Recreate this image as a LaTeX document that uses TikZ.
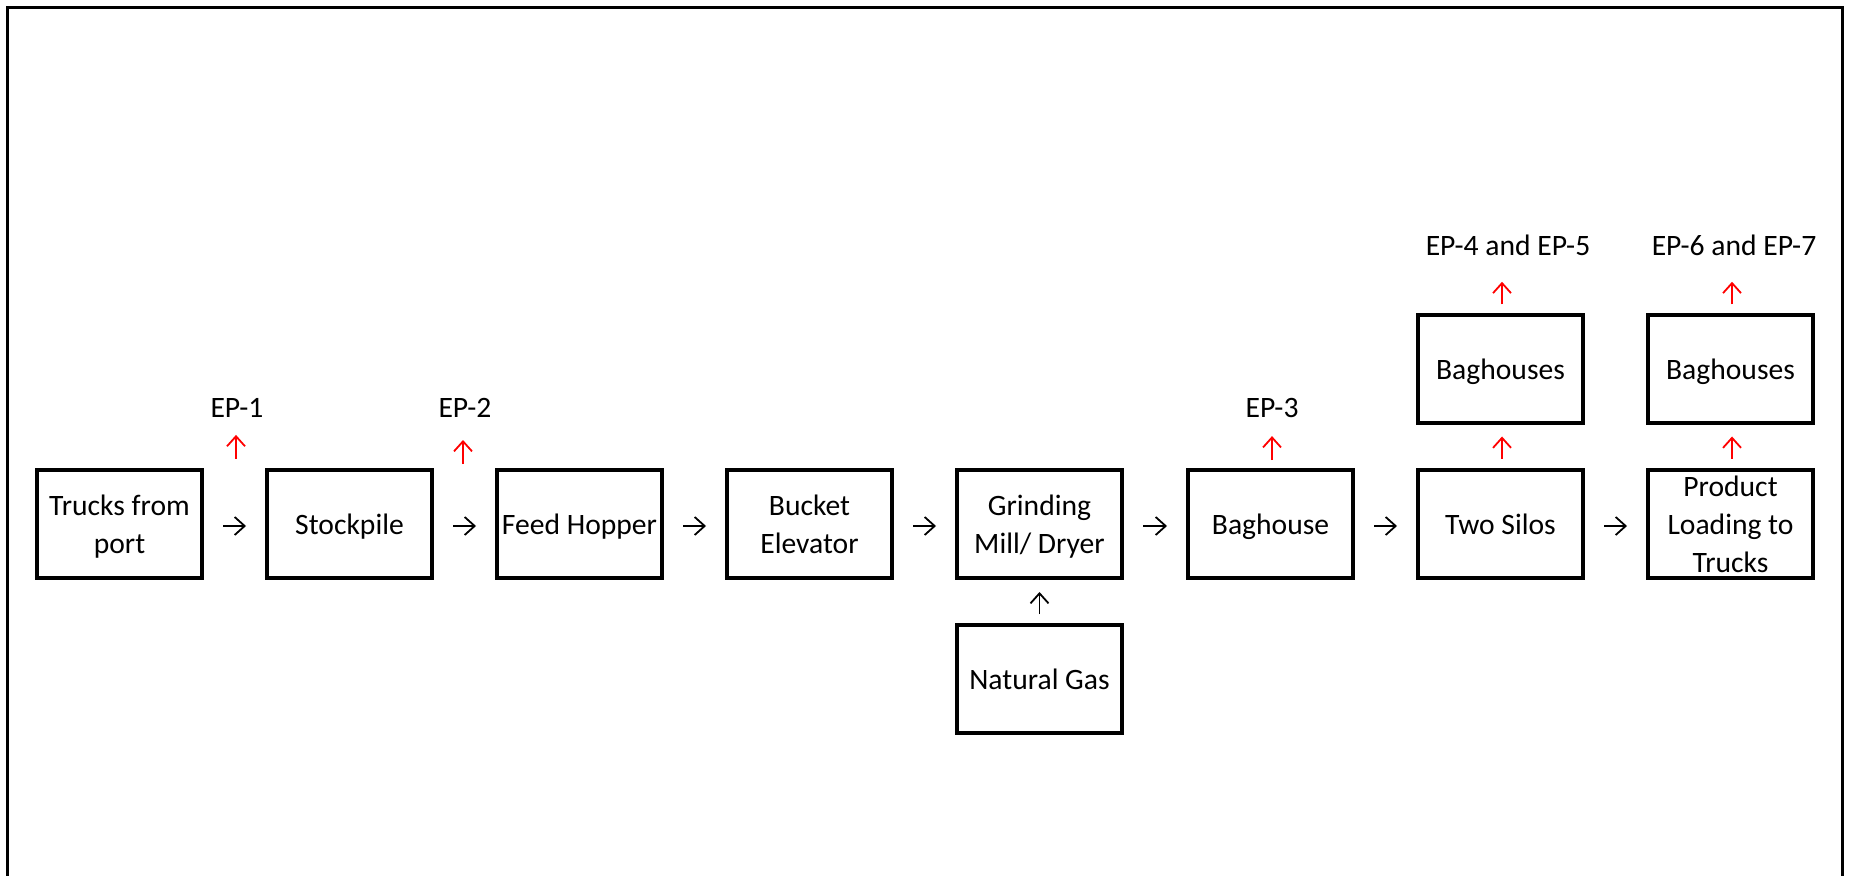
\documentclass[tikz,border=0pt]{standalone}
\usepackage{fontspec}
\setmainfont{Carlito}
\usetikzlibrary{arrows.meta}
\tikzset{
  pbox/.style={draw, line width=2pt, minimum width=82.5pt, minimum height=54pt,
    inner sep=0pt, align=center, font=\fontsize{14.8}{19}\selectfont,
    text height=10pt, text depth=0pt},
  twolines/.style={text height=29pt},
  threelines/.style={text height=48pt},
  eplabel/.style={inner sep=0pt, font=\fontsize{14.8}{19}\selectfont},
  flow/.style={line width=0.9pt, -{Straight Barb[length=5pt,width=9pt]}},
  emit/.style={flow, red},
}
\begin{document}
\begin{tikzpicture}[x=0.5pt, y=-0.5pt]
\useasboundingbox (0,0) rectangle (1850,876);
% outer frame (left, top, right)
\draw[line width=1.5pt] (7.5,876) -- (7.5,7.5) -- (1842.5,7.5) -- (1842.5,876);

% main chain
\node[pbox, twolines] (b1) at (119.5,524) {Trucks from\\port};
\node[pbox] (b2) at (349.5,524) {Stockpile};
\node[pbox] (b3) at (579.5,524) {Feed Hopper};
\node[pbox, twolines] (b4) at (809.5,524) {Bucket\\Elevator};
\node[pbox, twolines] (b5) at (1039.5,524) {Grinding\\Mill/ Dryer};
\node[pbox] (b6) at (1270.5,524) {Baghouse};
\node[pbox] (b7) at (1500.5,524) {Two Silos};
\node[pbox, threelines] (b8) at (1730.5,524) {Product\\Loading to\\Trucks};

% upper and lower boxes
\node[pbox] (u7) at (1500.5,369.5) {Baghouses};
\node[pbox] (u8) at (1730.5,369.5) {Baghouses};
\node[pbox] (ng) at (1039.5,679) {Natural Gas};

% emission point labels
\node[eplabel] (ep1) at (237,408) {EP-1};
\node[eplabel] (ep2) at (465,408) {EP-2};
\node[eplabel] (ep3) at (1272,408) {EP-3};
\node[eplabel] (ep4) at (1508,245) {EP-4 and EP-5};
\node[eplabel] (ep6) at (1734,245) {EP-6 and EP-7};

% horizontal flow arrows
\foreach \a/\b in {b1/b2,b2/b3,b3/b4,b4/b5,b5/b6,b6/b7,b7/b8}
  \draw[flow, shorten <=9.5pt, shorten >=9.5pt] ([yshift=-1pt]\a.east) -- ([yshift=-1pt]\b.west);

% natural gas into mill
\draw[flow, shorten <=4.5pt, shorten >=6pt] (ng.north) -- (b5.south);

% emission arrows
\coordinate (s1) at (236,459);
\coordinate (s2) at (463,464);
\draw[emit, shorten >=8.5pt] (s1) -- (s1 |- ep1.south);
\draw[emit, shorten >=11pt] (s2) -- (s2 |- ep2.south);
\draw[emit, shorten <=4pt, shorten >=9pt] ([xshift=0.75pt]b6.north) -- ([xshift=0.75pt]b6.north |- ep3.south);
\draw[emit, shorten <=4.5pt, shorten >=5.5pt] ([xshift=0.75pt]b7.north) -- ([xshift=0.75pt]u7.south);
\draw[emit, shorten <=4.5pt, shorten >=5.5pt] ([xshift=0.75pt]b8.north) -- ([xshift=0.75pt]u8.south);
\draw[emit, shorten <=4.5pt, shorten >=13pt] ([xshift=0.75pt]u7.north) -- ([xshift=0.75pt]u7.north |- ep4.south);
\draw[emit, shorten <=4.5pt, shorten >=13pt] ([xshift=0.75pt]u8.north) -- ([xshift=0.75pt]u8.north |- ep6.south);
\end{tikzpicture}
\end{document}
